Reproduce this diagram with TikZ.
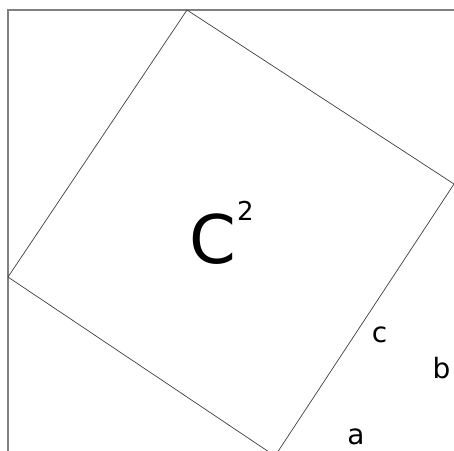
\documentclass[tikz,border=0pt]{standalone}
\usepackage{fontspec}
\setmainfont{DejaVu Sans}
\begin{document}
\begin{tikzpicture}[x=1pt,y=-1pt,
  outer/.style={draw=black!50,line width=1.2pt},
  inner/.style={draw=black!75,line width=0.7pt},
  lbl/.style={inner sep=0pt,anchor=base,font=\fontsize{28}{28}\selectfont}]
\useasboundingbox[fill=white] (0,0) rectangle (454,450);
\begin{scope}
\clip (0,0) rectangle (454,450);
\coordinate (O1) at (8,456);
\coordinate (O2) at (8,10);
\coordinate (O3) at (454,10);
\coordinate (T) at (187,10);
\coordinate (R) at (454,184);
\coordinate (B) at (275,456);
\coordinate (L) at (8,277);
\draw[outer] (O1) -- (O2) -- (O3);
\draw[inner] (T) -- (R) -- (B) -- (L) -- cycle;
\end{scope}
\node[inner sep=0pt,anchor=base,font=\fontsize{67}{67}\selectfont] (C) at (212.5,263) {C};
\node[inner sep=0pt,anchor=base,font=\fontsize{26}{26}\selectfont] (two) at (245.5,220) {2};
\node[lbl] (c) at (379.5,342) {c};
\node[lbl] (b) at (441.5,378) {b};
\node[lbl] (a) at (356,444) {a};
\end{tikzpicture}
\end{document}
